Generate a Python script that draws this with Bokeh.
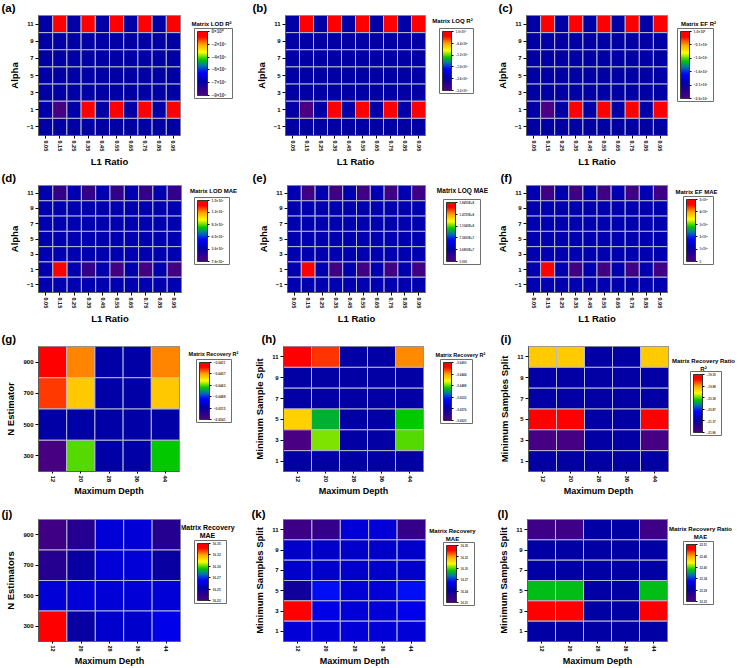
from bokeh.plotting import figure
from bokeh.layouts import row, column
from bokeh.models import (ColumnDataSource, LinearColorMapper, ColorBar, FixedTicker,
                          Label, FactorRange, Range1d, CustomJSTickFormatter)
from bokeh.embed import file_html
from bokeh.resources import INLINE

FONT = "Liberation Sans"

# ---------------- grid axes ----------------
l1_ratio = ["0.05", "0.15", "0.25", "0.35", "0.45", "0.55", "0.65", "0.75", "0.85", "0.95"]
alpha_rows = [11, 9, 7, 5, 3, 1, -1]            # listed top to bottom
max_depth = ["12", "20", "28", "36", "44"]
n_estimator_rows = [900, 700, 500, 300]
min_split_rows = [11, 9, 7, 5, 3, 1]

# ---------------- ElasticNet grids (rows = alpha_rows, cols = l1_ratio) ----------------
lod_r2 = [
    [-7.0e5, 0.0, -7.0e5, 0.0, -7.0e5, 0.0, -7.0e5, 0.0, -7.0e5, 0.0],
    [-7.0e5, -7.0e5, -7.0e5, -7.0e5, -7.0e5, -7.0e5, -7.0e5, -7.0e5, -7.0e5, -7.0e5],
    [-7.0e5, -7.0e5, -7.0e5, -7.0e5, -7.0e5, -7.0e5, -7.0e5, -7.0e5, -7.0e5, -7.0e5],
    [-7.0e5, -7.0e5, -7.0e5, -7.0e5, -7.0e5, -7.0e5, -7.0e5, -7.0e5, -7.0e5, -7.0e5],
    [-7.0e5, -7.0e5, -7.0e5, -7.0e5, -7.0e5, -7.0e5, -7.0e5, -7.0e5, -7.0e5, -7.0e5],
    [-7.0e5, -8.8e5, -7.0e5, 0.0, -7.0e5, 0.0, -7.0e5, 0.0, -7.0e5, 0.0],
    [-7.0e5, -7.0e5, -7.0e5, -7.0e5, -7.0e5, -7.0e5, -7.0e5, -7.0e5, -7.0e5, -7.0e5],
]
loq_r2 = [
    [-2.5e6, 1.0, -2.5e6, 1.0, -2.5e6, 1.0, -2.5e6, 1.0, -2.5e6, 1.0],
    [-2.5e6, -2.5e6, -2.5e6, -2.5e6, -2.5e6, -2.5e6, -2.5e6, -2.5e6, -2.5e6, -2.5e6],
    [-2.5e6, -2.5e6, -2.5e6, -2.5e6, -2.5e6, -2.5e6, -2.5e6, -2.5e6, -2.5e6, -2.5e6],
    [-2.5e6, -2.5e6, -2.5e6, -2.5e6, -2.5e6, -2.5e6, -2.5e6, -2.5e6, -2.5e6, -2.5e6],
    [-2.5e6, -2.5e6, -2.5e6, -2.5e6, -2.5e6, -2.5e6, -2.5e6, -2.5e6, -2.5e6, -2.5e6],
    [-2.5e6, -3.15e6, -2.5e6, 1.0, -2.5e6, 1.0, -2.5e6, 1.0, -2.5e6, 1.0],
    [-2.5e6, -2.5e6, -2.5e6, -2.5e6, -2.5e6, -2.5e6, -2.5e6, -2.5e6, -2.5e6, -2.5e6],
]
ef_r2 = [
    [-2.03e7, 1.0, -2.03e7, 1.0, -2.03e7, 1.0, -2.03e7, 1.0, -2.03e7, 1.0],
    [-2.03e7, -2.03e7, -2.03e7, -2.03e7, -2.03e7, -2.03e7, -2.03e7, -2.03e7, -2.03e7, -2.03e7],
    [-2.03e7, -2.03e7, -2.03e7, -2.03e7, -2.03e7, -2.03e7, -2.03e7, -2.03e7, -2.03e7, -2.03e7],
    [-2.03e7, -2.03e7, -2.03e7, -2.03e7, -2.03e7, -2.03e7, -2.03e7, -2.03e7, -2.03e7, -2.03e7],
    [-2.03e7, -2.03e7, -2.03e7, -2.03e7, -2.03e7, -2.03e7, -2.03e7, -2.03e7, -2.03e7, -2.03e7],
    [-2.03e7, -2.56e7, -2.03e7, 1.0, -2.03e7, 1.0, -2.03e7, 1.0, -2.03e7, 1.0],
    [-2.03e7, -2.03e7, -2.03e7, -2.03e7, -2.03e7, -2.03e7, -2.03e7, -2.03e7, -2.03e7, -2.03e7],
]
lod_mae = [
    [4.2e6, 2.0e6, 4.2e6, 2.0e6, 4.2e6, 2.0e6, 4.2e6, 2.0e6, 4.2e6, 2.0e6],
    [4.2e6, 4.2e6, 4.2e6, 4.2e6, 4.2e6, 4.2e6, 4.2e6, 4.2e6, 4.2e6, 4.2e6],
    [4.2e6, 4.2e6, 4.2e6, 4.2e6, 4.2e6, 4.2e6, 4.2e6, 4.2e6, 4.2e6, 4.2e6],
    [4.2e6, 4.2e6, 4.2e6, 4.2e6, 4.2e6, 4.2e6, 4.2e6, 4.2e6, 4.2e6, 4.2e6],
    [4.2e6, 4.2e6, 4.2e6, 4.2e6, 4.2e6, 4.2e6, 4.2e6, 4.2e6, 4.2e6, 4.2e6],
    [4.2e6, 1.5e7, 4.2e6, 2.0e6, 4.2e6, 1.3e6, 4.2e6, 1.3e6, 4.2e6, 1.3e6],
    [4.2e6, 4.2e6, 4.2e6, 4.2e6, 4.2e6, 4.2e6, 4.2e6, 4.2e6, 4.2e6, 4.2e6],
]
loq_mae = [
    [4.4e7, 9.0e6, 4.4e7, 9.0e6, 4.4e7, 9.0e6, 4.4e7, 9.0e6, 4.4e7, 9.0e6],
    [4.4e7, 4.4e7, 4.4e7, 4.4e7, 4.4e7, 4.4e7, 4.4e7, 4.4e7, 4.4e7, 4.4e7],
    [4.4e7, 4.4e7, 4.4e7, 4.4e7, 4.4e7, 4.4e7, 4.4e7, 4.4e7, 4.4e7, 4.4e7],
    [4.4e7, 4.4e7, 4.4e7, 4.4e7, 4.4e7, 4.4e7, 4.4e7, 4.4e7, 4.4e7, 4.4e7],
    [4.4e7, 4.4e7, 4.4e7, 4.4e7, 4.4e7, 4.4e7, 4.4e7, 4.4e7, 4.4e7, 4.4e7],
    [4.4e7, 1.84e8, 4.4e7, 8.0e6, 4.4e7, 8.0e6, 4.4e7, 8.0e6, 4.4e7, 8.0e6],
    [4.4e7, 4.4e7, 4.4e7, 4.4e7, 4.4e7, 4.4e7, 4.4e7, 4.4e7, 4.4e7, 4.4e7],
]
ef_mae = [
    [1.2e8, 2.5e7, 1.2e8, 2.5e7, 1.2e8, 2.5e7, 1.2e8, 2.5e7, 1.2e8, 2.5e7],
    [1.2e8, 1.2e8, 1.2e8, 1.2e8, 1.2e8, 1.2e8, 1.2e8, 1.2e8, 1.2e8, 1.2e8],
    [1.2e8, 1.2e8, 1.2e8, 1.2e8, 1.2e8, 1.2e8, 1.2e8, 1.2e8, 1.2e8, 1.2e8],
    [1.2e8, 1.2e8, 1.2e8, 1.2e8, 1.2e8, 1.2e8, 1.2e8, 1.2e8, 1.2e8, 1.2e8],
    [1.2e8, 1.2e8, 1.2e8, 1.2e8, 1.2e8, 1.2e8, 1.2e8, 1.2e8, 1.2e8, 1.2e8],
    [1.2e8, 5.0e8, 1.2e8, 2.2e7, 1.2e8, 2.2e7, 1.2e8, 2.2e7, 1.2e8, 2.2e7],
    [1.2e8, 1.2e8, 1.2e8, 1.2e8, 1.2e8, 1.2e8, 1.2e8, 1.2e8, 1.2e8, 1.2e8],
]

# ---------------- tree-model grids (cols = max_depth) ----------------
recovery_r2_nest = [          # rows = n_estimator_rows
    [-0.6418, -0.6434, -0.6512, -0.6512, -0.6434],
    [-0.6427, -0.6443, -0.6512, -0.6512, -0.6443],
    [-0.6512, -0.6512, -0.6512, -0.6512, -0.6512],
    [-0.6538, -0.6463, -0.6512, -0.6512, -0.6468],
]
recovery_r2_split = [         # rows = min_split_rows
    [-0.6411, -0.6426, -0.6572, -0.6572, -0.6440],
    [-0.6572, -0.6572, -0.6572, -0.6572, -0.6572],
    [-0.6572, -0.6572, -0.6572, -0.6572, -0.6572],
    [-0.6457, -0.6503, -0.6572, -0.6572, -0.6497],
    [-0.6616, -0.6484, -0.6572, -0.6572, -0.6488],
    [-0.6572, -0.6572, -0.6572, -0.6572, -0.6572],
]
recovery_ratio_r2 = [
    [-20.01, -20.01, -21.32, -21.32, -20.01],
    [-21.32, -21.32, -21.32, -21.32, -21.32],
    [-21.32, -21.32, -21.32, -21.32, -21.32],
    [-19.51, -19.51, -21.32, -21.32, -19.51],
    [-21.79, -21.79, -21.32, -21.32, -21.79],
    [-21.32, -21.32, -21.32, -21.32, -21.32],
]
recovery_mae_nest = [
    [16.226, 16.236, 16.259, 16.259, 16.236],
    [16.236, 16.246, 16.259, 16.259, 16.246],
    [16.259, 16.259, 16.259, 16.259, 16.259],
    [16.346, 16.246, 16.257, 16.257, 16.263],
]
recovery_mae_split = [
    [16.218, 16.221, 16.252, 16.252, 16.221],
    [16.249, 16.249, 16.249, 16.249, 16.249],
    [16.249, 16.249, 16.249, 16.249, 16.249],
    [16.235, 16.262, 16.252, 16.252, 16.262],
    [16.346, 16.255, 16.252, 16.252, 16.256],
    [16.252, 16.252, 16.252, 16.252, 16.252],
]
recovery_ratio_mae = [
    [22.245, 22.245, 22.292, 22.292, 22.245],
    [22.292, 22.292, 22.292, 22.292, 22.292],
    [22.292, 22.292, 22.292, 22.292, 22.292],
    [22.384, 22.384, 22.292, 22.292, 22.384],
    [22.500, 22.500, 22.292, 22.292, 22.500],
    [22.292, 22.292, 22.292, 22.292, 22.292],
]

# ---------------- colour-scale ticks (bottom to top) ----------------
lod_r2_ticks = [-9.0e5, -7.2e5, -5.4e5, -3.6e5, -1.8e5, 0.0]
lod_r2_labels = ["−9×10⁵", "−7×10⁵", "−6×10⁵", "−4×10⁵", "−2×10⁵", "0×10⁰"]
loq_r2_ticks = [-3.2e6, -2.56e6, -1.92e6, -1.28e6, -6.4e5, 1.0]
loq_r2_labels = ["−3.2×10⁶", "−2.6×10⁶", "−1.9×10⁶", "−1.3×10⁶", "−6.4×10⁵", "1.0×10⁰"]
ef_r2_ticks = [-2.6e7, -2.08e7, -1.56e7, -1.04e7, -5.2e6, 1.0]
ef_r2_labels = ["−2.6×10⁷", "−2.1×10⁷", "−1.6×10⁷", "−1.0×10⁷", "−5.1×10⁶", "1.0×10⁰"]
lod_mae_ticks = [7.6e5, 3.6e6, 6.5e6, 9.3e6, 1.22e7, 1.5e7]
lod_mae_labels = ["7.6×10⁵", "3.6×10⁶", "6.5×10⁶", "9.3×10⁶", "1.2×10⁷", "1.5×10⁷"]
loq_mae_ticks = [0.0, 3.68e7, 7.36e7, 1.104e8, 1.472e8, 1.84e8]
loq_mae_labels = ["0.000", "3.6800E+7", "7.3600E+7", "1.1040E+8", "1.4720E+8", "1.8400E+8"]
ef_mae_ticks = [0.0, 1e8, 2e8, 3e8, 4e8, 5e8]
ef_mae_labels = ["0", "1×10⁸", "2×10⁸", "3×10⁸", "4×10⁸", "5×10⁸"]
rec_r2_nest_ticks = [-0.6541, -0.6515, -0.6489, -0.6463, -0.6437, -0.6411]
rec_r2_nest_labels = ["−0.6541", "−0.6515", "−0.6489", "−0.6463", "−0.6437", "−0.6411"]
rec_r2_split_ticks = [-0.6620, -0.6576, -0.6532, -0.6488, -0.6444, -0.6400]
rec_r2_split_labels = ["−0.6620", "−0.6576", "−0.6532", "−0.6488", "−0.6444", "−0.6400"]
rec_ratio_r2_ticks = [-21.86, -21.37, -20.87, -20.38, -19.88, -19.39]
rec_ratio_r2_labels = ["−21.86", "−21.37", "−20.87", "−20.38", "−19.88", "−19.39"]
rec_mae_nest_ticks = [16.22, 16.246, 16.272, 16.298, 16.324, 16.35]
rec_mae_nest_labels = ["16.22", "16.25", "16.27", "16.30", "16.32", "16.35"]
rec_mae_split_ticks = [16.21, 16.238, 16.266, 16.294, 16.322, 16.35]
rec_mae_split_labels = ["16.21", "16.24", "16.27", "16.30", "16.32", "16.35"]
rec_ratio_mae_ticks = [22.23, 22.286, 22.342, 22.398, 22.454, 22.51]
rec_ratio_mae_labels = ["22.23", "22.29", "22.34", "22.40", "22.45", "22.51"]


# rainbow colour map: purple -> navy -> blue -> green -> yellow -> orange -> red
STOPS = [(0.00, (78, 0, 128)), (0.10, (45, 0, 140)), (0.22, (0, 0, 165)),
         (0.36, (0, 0, 255)), (0.47, (0, 120, 170)), (0.56, (0, 200, 0)),
         (0.68, (255, 255, 0)), (0.80, (255, 165, 0)), (0.92, (255, 0, 0)),
         (1.00, (255, 0, 0))]


def build_palette(n=256):
    pal = []
    for i in range(n):
        t = i / (n - 1)
        for (t0, c0), (t1, c1) in zip(STOPS[:-1], STOPS[1:]):
            if t0 <= t <= t1:
                f = (t - t0) / (t1 - t0)
                c = tuple(int(round(a + (b - a) * f)) for a, b in zip(c0, c1))
                break
        pal.append("#%02x%02x%02x" % c)
    return pal


PALETTE = build_palette()
COL_W = 246
ROW_H = [170, 157, 173, 168]
ROW_TOP = [0, 170, 327, 500]
ROW_BORDERS = [(15, 32), (15, 30), (19, 29), (19, 27)]   # (top, bottom) around frames
# the top two rows carry a taller letter slot, so their side panels sit a little lower
ROW_NUDGE = [(2, 2), (2, 2), (0, 0), (0, 0)]             # (heading, colour bar) in px
CELL_LINE = "#b9b9cc"
FRAME = "#5c5c5c"


def panel(col, rw, tag, tag_x, xcats, yrows, ystep, grid, ticks, labels, title_lines,
          title_xy, title_size, xlab, ylab, left, right_edge, cb_box, cb_w, cb_h,
          cb_font, x_font):
    """Heat map figure plus a narrow companion figure carrying the colour scale."""
    H = ROW_H[rw]
    top, bottom = ROW_BORDERS[rw]
    nudge_title, nudge_bar = ROW_NUDGE[rw]
    x0, y0 = col * COL_W, ROW_TOP[rw]
    heat_w = right_edge + 1
    frame_bottom = y0 + H - bottom          # page y of the frames' lower edge in this row

    xs, ys, zs = [], [], []
    for yv, vals in zip(yrows, grid):
        for xc, z in zip(xcats, vals):
            xs.append(xc)
            ys.append(yv)
            zs.append(z)
    src = ColumnDataSource(dict(x=xs, y=ys, z=zs))
    mapper = LinearColorMapper(palette=PALETTE, low=ticks[0], high=ticks[-1])

    p = figure(width=heat_w, height=H, x_range=FactorRange(*xcats),
               y_range=Range1d(min(yrows) - ystep / 2, max(yrows) + ystep / 2),
               toolbar_location=None, output_backend="svg", title=tag,
               min_border_left=left, min_border_right=1,
               min_border_top=top, min_border_bottom=bottom)
    p.rect(x="x", y="y", width=1, height=ystep, source=src,
           fill_color={"field": "z", "transform": mapper},
           line_color=CELL_LINE, line_width=1)

    # panel letter sits in the title slot, pushed left over the axis area
    p.title.align = "left"
    p.title.vertical_align = "bottom" if rw == 3 else "top"
    p.title.offset = tag_x - (x0 + left)
    p.title.standoff = 0
    p.title.text_font = FONT
    p.title.text_font_style = "bold"
    p.title.text_font_size = "11.5px"
    p.title.text_color = "black"

    p.grid.visible = False
    p.outline_line_color = FRAME
    p.outline_line_width = 1
    p.background_fill_color = "white"
    p.yaxis.ticker = FixedTicker(ticks=list(yrows))
    for ax in (p.xaxis[0], p.yaxis[0]):
        ax.axis_line_color = FRAME
        ax.major_tick_line_color = "black"
        ax.major_tick_out = 3
        ax.major_tick_in = 0
        ax.minor_tick_line_color = None
        ax.major_label_text_font = FONT
        ax.major_label_text_font_style = "bold"
        ax.major_label_text_color = "black"
        ax.axis_label_text_font = FONT
        ax.axis_label_text_font_style = "bold"
        ax.axis_label_text_color = "black"
        ax.major_label_standoff = 2
    p.xaxis.major_label_orientation = "vertical"
    p.xaxis.major_label_text_font_size = x_font
    p.yaxis.major_label_text_font_size = "6px"
    p.xaxis.axis_label = xlab
    p.yaxis.axis_label = ylab
    p.xaxis.axis_label_text_font_size = "9.5px"
    p.yaxis.axis_label_text_font_size = "9.5px"
    p.xaxis.axis_label_standoff = 2
    p.yaxis.axis_label_standoff = 4
    if rw >= 2:
        p.xaxis.major_tick_out = 2
        p.xaxis.major_label_standoff = 2
        p.xaxis.axis_label_standoff = 1
        p.xaxis.axis_label_text_font_size = "9px"

    # companion figure: colour bar with its heading
    side_w = COL_W - heat_w
    sx0 = x0 + heat_w
    s = figure(width=side_w, height=H, x_range=Range1d(0, 1), y_range=Range1d(0, 1),
               toolbar_location=None, output_backend="svg",
               x_axis_location=None, y_axis_location=None,
               min_border_left=0, min_border_right=0, min_border_top=top,
               min_border_bottom=bottom)
    s.outline_line_color = None
    s.grid.visible = False

    fmt = CustomJSTickFormatter(args=dict(vals=ticks, labs=labels), code="""
        let best = 0, d = Infinity;
        for (let i = 0; i < vals.length; i++) {
            const e = Math.abs(vals[i] - tick);
            if (e < d) { d = e; best = i; }
        }
        return labs[best];
    """)
    cb = ColorBar(color_mapper=mapper, ticker=FixedTicker(ticks=ticks), formatter=fmt,
                  location=(cb_box[0] - sx0, frame_bottom - cb_box[1] - nudge_bar),
                  width=cb_w, height=cb_h, padding=3,
                  label_standoff=2, major_label_text_font=FONT,
                  major_label_text_font_size=cb_font, major_label_text_font_style="bold",
                  major_tick_line_color="black", major_tick_in=0, major_tick_out=2,
                  minor_tick_line_color=None, bar_line_color="#333333",
                  border_line_color="#6e6e6e", border_line_width=1,
                  background_fill_color="white")
    s.add_layout(cb)

    for i, line in enumerate(title_lines):
        s.add_layout(Label(x=title_xy[0] - sx0,
                           y=frame_bottom - (title_xy[1] + i * 8) - nudge_title,
                           x_units="screen", y_units="screen", text=line,
                           text_align="center", text_baseline="middle",
                           text_font=FONT, text_font_style="bold",
                           text_font_size=title_size, text_color="black"))
    return [p, s]


pa = panel(0, 0, "(a)", 1, l1_ratio, alpha_rows, 2, lod_r2, lod_r2_ticks, lod_r2_labels,
           ["Matrix LOD R²"], (211, 24), "6px", "L1 Ratio", "Alpha",
           38, 180, (194, 99), 10, 64, "4.5px", "5.5px")
pb = panel(1, 0, "(b)", 252, l1_ratio, alpha_rows, 2, loq_r2, loq_r2_ticks, loq_r2_labels,
           ["Matrix LOQ R²"], (452, 21), "6px", "L1 Ratio", "Alpha",
           39, 179, (439, 94), 9, 59, "3px", "5.5px")
pc = panel(2, 0, "(c)", 498, l1_ratio, alpha_rows, 2, ef_r2, ef_r2_ticks, ef_r2_labels,
           ["Matrix EF R²"], (698, 24), "6px", "L1 Ratio", "Alpha",
           34, 175, (677, 102), 9, 67, "3.5px", "5.5px")
pd_ = panel(0, 1, "(d)", 1, l1_ratio, alpha_rows, 2, lod_mae, lod_mae_ticks,
            lod_mae_labels, ["Matrix LOD MAE"], (213, 193), "6px", "L1 Ratio", "Alpha",
            38, 181, (194, 267), 10, 61, "3.5px", "5.5px")
pe = panel(1, 1, "(e)", 252, l1_ratio, alpha_rows, 2, loq_mae, loq_mae_ticks,
           loq_mae_labels, ["Matrix LOQ MAE"], (462, 193), "6.5px", "L1 Ratio", "Alpha",
           41, 179, (443, 267), 9, 59, "3px", "5.5px")
pf = panel(2, 1, "(f)", 500, l1_ratio, alpha_rows, 2, ef_mae, ef_mae_ticks,
           ef_mae_labels, ["Matrix EF MAE"], (696, 194), "6px", "L1 Ratio", "Alpha",
           34, 175, (683, 267), 9, 62, "3px", "5.5px")
pg = panel(0, 2, "(g)", 1, max_depth, n_estimator_rows, 200, recovery_r2_nest,
           rec_r2_nest_ticks, rec_r2_nest_labels, ["Matrix Recovery R²"], (213, 353),
           "5.5px", "Maximum Depth", "N Estimator",
           38, 179, (196, 422), 10, 57, "3.3px", "6px")
ph = panel(1, 2, "(h)", 261, max_depth, min_split_rows, 2, recovery_r2_split,
           rec_r2_split_ticks, rec_r2_split_labels, ["Matrix Recovery R²"], (460, 354),
           "5.5px", "Maximum Depth", "Minimum Sample Split",
           37, 177, (440, 423), 8, 58, "3px", "6px")
pi = panel(2, 2, "(i)", 500, max_depth, min_split_rows, 2, recovery_ratio_r2,
           rec_ratio_r2_ticks, rec_ratio_r2_labels, ["Matrix Recovery Ratio", "R²"],
           (703, 360), "6px", "Maximum Depth", "Minimum Samples Split",
           36, 176, (690, 435), 9, 58, "3px", "6px")
pj = panel(0, 3, "(j)", 1, max_depth, n_estimator_rows, 200, recovery_mae_nest,
           rec_mae_nest_ticks, rec_mae_nest_labels, ["Matrix Recovery", "MAE"],
           (207, 527), "7px", "Maximum Depth", "N Estimators",
           38, 180, (194, 603), 11, 57, "3.3px", "5.5px")
pk = panel(1, 3, "(k)", 251, max_depth, min_split_rows, 2, recovery_mae_split,
           rec_mae_split_ticks, rec_mae_split_labels, ["Matrix Recovery", "MAE"],
           (452, 530), "6px", "Maximum Depth", "Minimum Samples Split",
           37, 179, (443, 605), 10, 57, "3px", "5.5px")
pl = panel(2, 3, "(l)", 497, max_depth, min_split_rows, 2, recovery_ratio_mae,
           rec_ratio_mae_ticks, rec_ratio_mae_labels, ["Matrix Recovery Ratio", "MAE"],
           (700, 528), "6px", "Maximum Depth", "Minimum Samples Split",
           35, 175, (683, 604), 9, 57, "3px", "5.5px")

layout = column(row(*pa, *pb, *pc), row(*pd_, *pe, *pf),
                row(*pg, *ph, *pi), row(*pj, *pk, *pl))

open("out.html", "w").write(file_html(layout, INLINE))
